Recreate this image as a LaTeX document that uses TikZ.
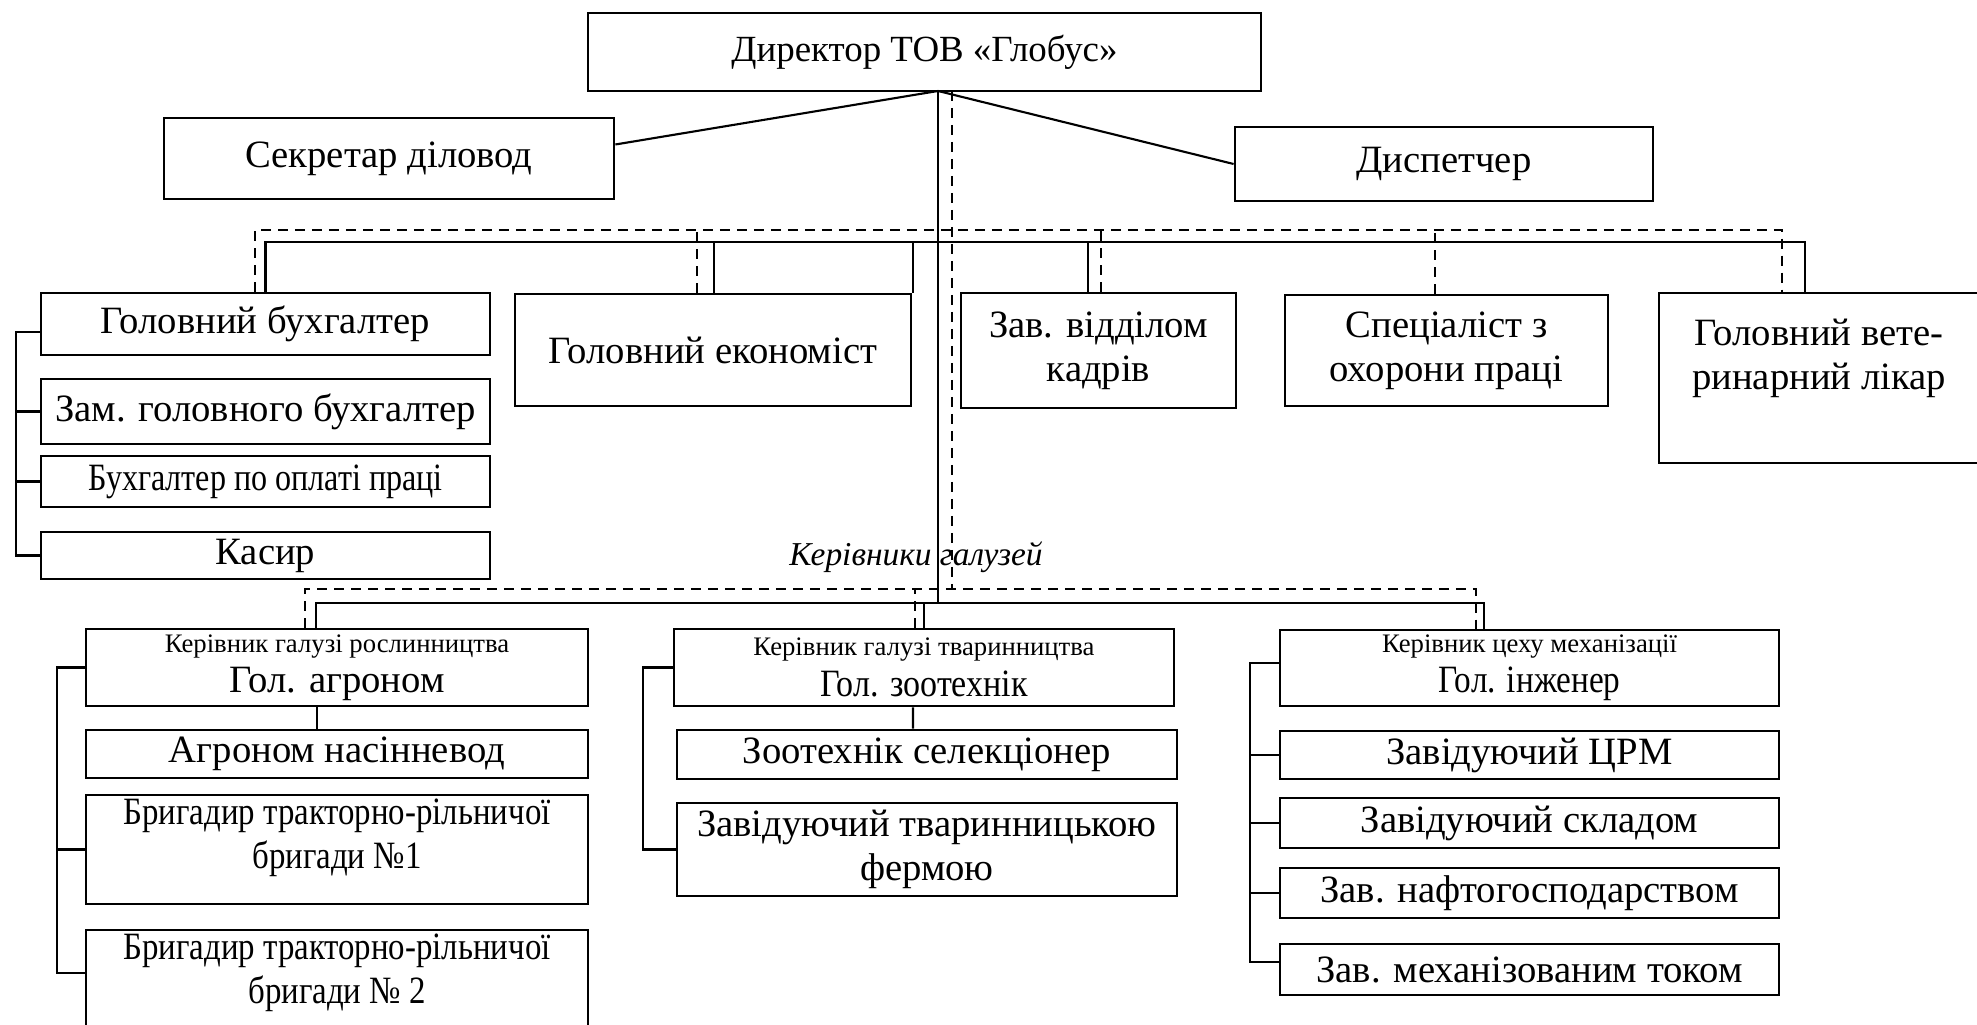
\documentclass[tikz,border=0pt]{standalone}
\usepackage{fontspec}
\setmainfont{Liberation Serif}
\begin{document}
\begin{tikzpicture}[x=0.1mm, y=-0.1mm, line width=0.6pt,
  box/.style = {draw, line width=0.8pt, inner sep=0pt, align=center, font=\fontsize{11}{12.5}\selectfont},
  txt/.style = {inner sep=0pt, align=center, font=\fontsize{11}{12.5}\selectfont},
  dsh/.style = {dash pattern=on 1mm off 0.7mm}]
  \useasboundingbox (0,0) rectangle (1977,1025);
  \node[box, minimum width=67.3mm, minimum height=7.8mm, font=\fontsize{10.5}{12}\selectfont] (dir) at (924.5,52) {Директор ТОВ «Глобус»};
  \node[box, minimum width=45mm, minimum height=8.1mm] (sec) at (389,158.5) {Секретар діловод};
  \node[box, minimum width=41.8mm, minimum height=7.4mm] (disp) at (1444,164) {Диспетчер};
  \node[box, minimum width=44.9mm, minimum height=6.2mm] (buh) at (265.5,324) {Головний бухгалтер};
  \node[box, minimum width=44.9mm, minimum height=6.5mm] (zam) at (265.5,411.5) {Зам. головного бухгалтер};
  \node[box, minimum width=44.9mm, minimum height=5.1mm] (opl) at (265.5,481.5) {\scalebox{0.83}[1]{Бухгалтер по оплаті праці}};
  \node[box, minimum width=44.9mm, minimum height=4.7mm] (kas) at (265.5,555.5) {Касир};
  \node[box, minimum width=39.6mm, minimum height=11.2mm] (ekon) at (713,350) {Головний економіст};
  \node[box, minimum width=27.5mm, minimum height=11.5mm] (kadr) at (1098.5,350.5) {Зав. відділом\\кадрів};
  \node[box, minimum width=32.3mm, minimum height=11.1mm] (ohor) at (1446.5,350.5) {Спеціаліст з\\охорони праці};
  \node[box, minimum width=33.1mm, minimum height=17mm] (vet) at (1824.5,378) {};
  \node[txt] (vett) at (1819,358) {Головний вете-\\ринарний лікар};
  \node[inner sep=0pt, font=\fontsize{9.5}{11}\selectfont\itshape] (ker) at (916,557) {Керівники галузей};
  \node[box, minimum width=50.2mm, minimum height=7.7mm] (rosl) at (337,667.5) {{\fontsize{7.6}{9}\selectfont Керівник галузі рослинництва}\\[-1pt]Гол. агроном};
  \node[box, minimum width=50.2mm, minimum height=4.8mm] (agr) at (337,754) {Агроном насінневод};
  \node[box, minimum width=50.2mm, minimum height=10.9mm] (br1) at (337,849.5) {};
  \node[txt] (br1t) at (337,838) {\scalebox{0.85}[1]{Бригадир тракторно-рільничої}\\\scalebox{0.85}[1]{бригади №1}};
  \node[box, minimum width=50.2mm, minimum height=11mm] (br2) at (337,985) {};
  \node[txt] (br2t) at (337,973) {\scalebox{0.85}[1]{Бригадир тракторно-рільничої}\\\scalebox{0.85}[1]{бригади № 2}};
  \node[box, minimum width=50mm, minimum height=7.7mm] (tvar) at (924,667.5) {{\fontsize{7.6}{9}\selectfont Керівник галузі тваринництва}\\[-1pt]\scalebox{0.88}[1]{Гол. зоотехнік}};
  \node[box, minimum width=50mm, minimum height=4.9mm] (zoo) at (927,754.5) {Зоотехнік селекціонер};
  \node[box, minimum width=50mm, minimum height=9.3mm] (ferm) at (927,849.5) {Завідуючий тваринницькою\\фермою};
  \node[box, minimum width=49.9mm, minimum height=7.6mm] (mech) at (1529.5,668) {{\fontsize{7.6}{9}\selectfont Керівник цеху механізації}\\[-1pt]\scalebox{0.86}[1]{Гол. інженер}};
  \node[box, minimum width=49.9mm, minimum height=4.8mm] (crm) at (1529.5,755) {Завідуючий ЦРМ};
  \node[box, minimum width=49.9mm, minimum height=5mm] (skl) at (1529.5,823) {Завідуючий складом};
  \node[box, minimum width=49.9mm, minimum height=5mm] (naft) at (1529.5,893) {Зав. нафтогосподарством};
  \node[box, minimum width=49.9mm, minimum height=5.1mm] (tok) at (1529.5,969.5) {Зав. механізованим током};
  \coordinate (ts) at (938,91);
  \coordinate (td) at (952,91);
  \coordinate (ls) at (938,604);
  \coordinate (ld) at (952,590);
  \draw (ts) -- ([yshift=1.4mm]sec.east);
  \draw (ts) -- (disp.west);
  \draw (ts) -- (ls);
  \draw[dsh] (td) -- (ld);
  \draw (buh.north) -- ++(0,-50) -| ([xshift=-1.95mm]vet.north);
  \draw ([xshift=0.1mm]ekon.north) -- ++(0,-51);
  \draw ([xshift=20mm]ekon.north) -- ++(0,-51);
  \draw ([xshift=-1.05mm]kadr.north) -- ++(0,-50);
  \draw[dsh] ([xshift=-1.05mm]buh.north) -- ++(0,-62) -| ([xshift=-4.25mm]vet.north);
  \draw[dsh] ([xshift=-1.6mm]ekon.north) -- ++(0,-63);
  \draw[dsh] ([xshift=0.25mm]kadr.north) -- ++(0,-62);
  \draw[dsh] ([xshift=-1.15mm]ohor.north) -- ++(0,-64);
  \draw ([xshift=-2.1mm]rosl.north) -- ++(0,-25) -| ([xshift=-4.55mm]mech.north);
  \draw (tvar.north) -- ++(0,-25);
  \draw[dsh] ([xshift=-3.2mm]rosl.north) -- ++(0,-39) -| ([xshift=-5.35mm]mech.north);
  \draw[dsh] ([xshift=-0.9mm]tvar.north) -- ++(0,-39);
  \draw ([yshift=-0.8mm]buh.west) -- ++(-24,0) |- (kas.west);
  \draw (zam.west) -- ++(-24,0);
  \draw (opl.west) -- ++(-24,0);
  \draw ([xshift=-2mm]rosl.south) -- ([xshift=-2mm]agr.north);
  \draw (rosl.west) -- ++(-28,0) |- (br2.west |- br2t.center);
  \draw (br1.west) -- ++(-28,0);
  \draw ([xshift=-1.1mm]tvar.south) -- ([xshift=-1.4mm]zoo.north);
  \draw (tvar.west) -- ++(-30,0) |- (ferm.west);
  \draw ([yshift=0.5mm]mech.west) -- ++(-29,0) |- ([yshift=0.75mm]tok.west);
  \draw (crm.west) -- ++(-29,0);
  \draw (skl.west) -- ++(-29,0);
  \draw (naft.west) -- ++(-29,0);
\end{tikzpicture}
\end{document}
